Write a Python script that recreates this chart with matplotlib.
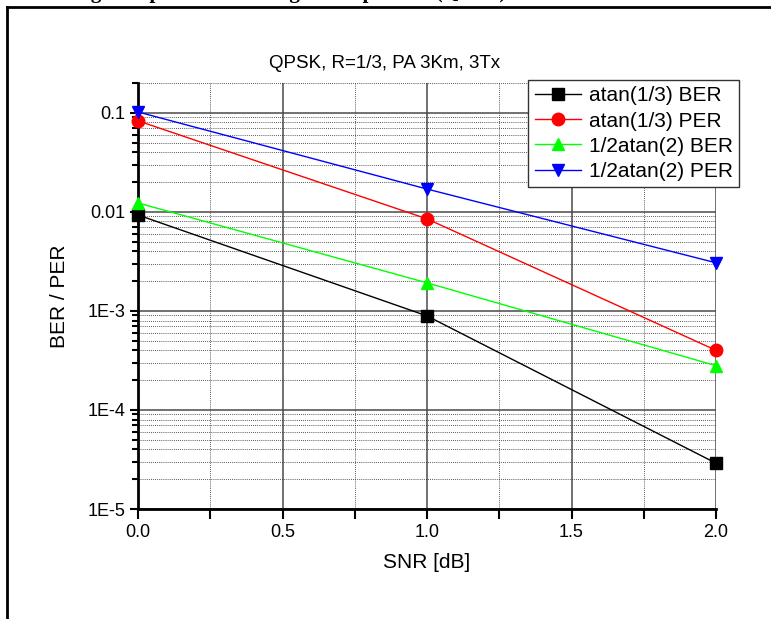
import numpy as np
import matplotlib
matplotlib.use("Agg")
import matplotlib.pyplot as plt
from matplotlib.ticker import FixedLocator, LogLocator, NullFormatter, FixedFormatter
from matplotlib.lines import Line2D

plt.rcParams['font.family'] = ['Liberation Sans', 'DejaVu Sans']

# data
snr = [0.0, 1.0, 2.0]
ber_atan13 = [0.0093, 0.00089, 0.000029]
per_atan13 = [0.083, 0.0085, 0.00040]
ber_half_atan2 = [0.0123, 0.00192, 0.00028]
per_half_atan2 = [0.102, 0.017, 0.00306]

labels = ["atan(1/3) BER", "atan(1/3) PER", "1/2atan(2) BER", "1/2atan(2) PER"]
colors = ["black", "red", "#00ff00", "blue"]
markers = ["s", "o", "^", "v"]

ytick_vals = [1e-5, 1e-4, 1e-3, 1e-2, 1e-1]
ytick_labels = ["1E-5", "1E-4", "1E-3", "0.01", "0.1"]
xtick_vals = [0.0, 0.5, 1.0, 1.5, 2.0]
xtick_labels = ["0.0", "0.5", "1.0", "1.5", "2.0"]

W, H = 771, 619
fig = plt.figure(figsize=(W / 100, H / 100), dpi=100)

# page frame + caption of the document, cut at the top like in the scan
fig.add_artist(Line2D([7 / W, 7 / W], [0, 1 - 7 / H], color="black", lw=2, transform=fig.transFigure))
fig.add_artist(Line2D([7 / W, 1], [1 - 7 / H, 1 - 7 / H], color="black", lw=2, transform=fig.transFigure))
fig.text(24 / W, 1 + 2 / H, "Training Comparison for Longer Sample Sets (QPSK)",
         family="Liberation Serif", weight="bold", fontsize=15, ha="left", va="baseline")

ax = fig.add_axes([138 / W, 1 - 509 / H, 578 / W, 426 / H])

series = [ber_atan13, per_atan13, ber_half_atan2, per_half_atan2]
for vals, lab, c, m in zip(series, labels, colors, markers):
    ax.plot(snr, vals, color=c, marker=m, markersize=9, lw=1, label=lab, clip_on=False, zorder=3)

ax.set_yscale("log")
ax.set_xlim(0, 2)
ax.set_ylim(1e-5, 0.2)

ax.xaxis.set_major_locator(FixedLocator(xtick_vals))
ax.xaxis.set_major_formatter(FixedFormatter(xtick_labels))
ax.xaxis.set_minor_locator(FixedLocator([0.25, 0.75, 1.25, 1.75]))
ax.yaxis.set_major_locator(FixedLocator(ytick_vals))
ax.yaxis.set_major_formatter(FixedFormatter(ytick_labels))
ax.yaxis.set_minor_locator(LogLocator(base=10, subs=np.arange(2, 10), numticks=20))
ax.yaxis.set_minor_formatter(NullFormatter())

ax.grid(which="major", color="#4a4a4a", lw=1.1, ls="-")
ax.grid(which="minor", color="#222222", lw=0.6, ls=(0, (1, 1.5)))
ax.set_axisbelow(True)

for s in ["top", "right"]:
    ax.spines[s].set_visible(False)
for s in ["left", "bottom"]:
    ax.spines[s].set_linewidth(2)

ax.tick_params(axis="x", which="both", direction="out", length=7, width=1.5, labelsize=13, pad=4)
ax.tick_params(axis="y", which="major", direction="out", length=6, width=1.5, labelsize=13, pad=3)
ax.tick_params(axis="y", which="minor", direction="out", length=4, width=1.5)

ax.set_xlabel("SNR [dB]", fontsize=15)
ax.set_ylabel("BER / PER", fontsize=15)
ax.xaxis.set_label_coords(0.5, -0.103)
ax.yaxis.set_label_coords(-0.12, 0.5)
fig.text(385 / W, 1 - 63 / H, "QPSK, R=1/3, PA 3Km, 3Tx", fontsize=13.5, ha="center", va="center")

leg = ax.legend(loc="upper right", bbox_to_anchor=(1.04, 1.007), borderaxespad=0,
                fontsize=15, fancybox=False, framealpha=1, edgecolor="#333333",
                handlelength=2.2, labelspacing=0.3, borderpad=0.3, handletextpad=0.4)
leg.get_frame().set_linewidth(1)

fig.savefig("out.png", dpi=100)
